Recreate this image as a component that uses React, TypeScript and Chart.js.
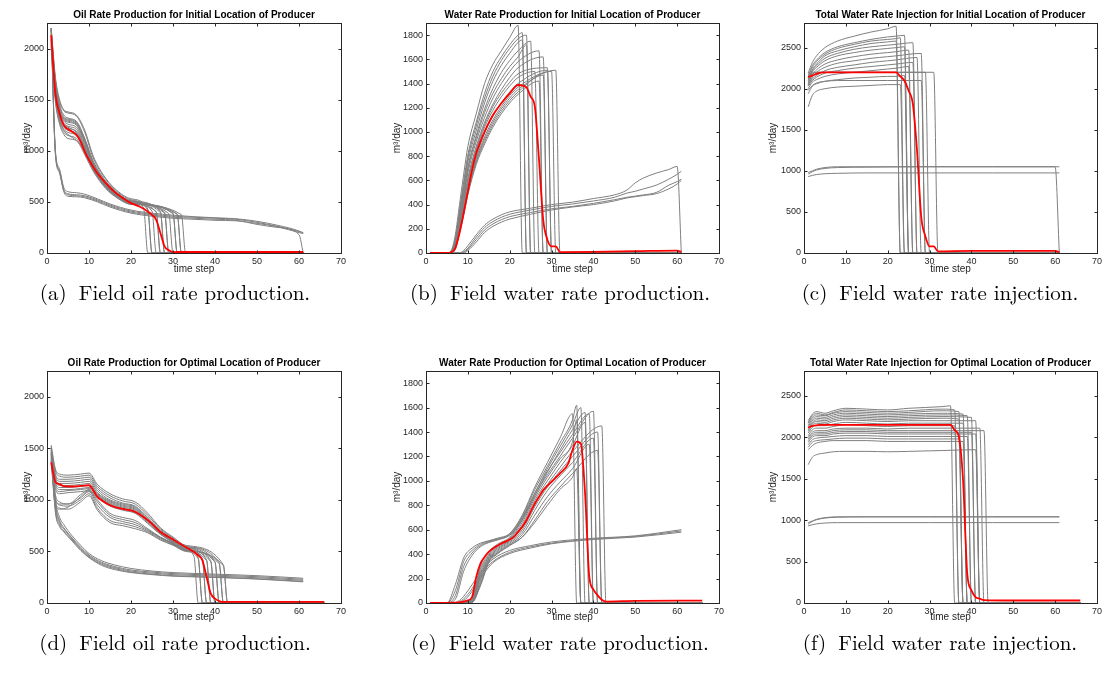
import React, { useEffect, useRef } from 'react';
import { Chart, registerables } from 'chart.js';

Chart.register(...registerables);

type Pt = { x: number; y: number };

// ---------------- Panel (a): oil rate, initial location ----------------
const A_GRID = [1, 2, 3, 4, 5, 7, 9, 11, 14, 17, 20];
const A_MAIN = [
  [2200, 1700, 1480, 1390, 1370, 1340, 1180, 930, 720, 590, 520],
  [2180, 1680, 1450, 1350, 1320, 1290, 1120, 900, 700, 580, 510],
  [2150, 1650, 1420, 1320, 1300, 1270, 1100, 880, 690, 570, 505],
  [2120, 1630, 1400, 1300, 1280, 1250, 1080, 870, 680, 565, 500],
  [2100, 1600, 1380, 1290, 1260, 1230, 1060, 860, 670, 560, 495],
  [2080, 1580, 1360, 1270, 1240, 1210, 1040, 850, 665, 555, 490],
  [2060, 1560, 1340, 1250, 1220, 1190, 1030, 840, 660, 550, 488],
  [2050, 1540, 1320, 1230, 1200, 1170, 1010, 830, 655, 545, 485],
  [2040, 1520, 1300, 1210, 1180, 1150, 1000, 820, 650, 540, 480],
  [2020, 1500, 1280, 1180, 1150, 1120, 980, 810, 640, 535, 478],
  [2000, 1480, 1260, 1160, 1120, 1100, 960, 800, 630, 530, 475],
  [2190, 1720, 1500, 1400, 1380, 1350, 1200, 950, 730, 600, 530],
  [2090, 1620, 1390, 1310, 1290, 1260, 1090, 860, 675, 560, 500],
  [2030, 1530, 1310, 1200, 1160, 1100, 1000, 820, 640, 540, 482],
  [2140, 1660, 1430, 1330, 1310, 1280, 1110, 890, 700, 575, 510],
  [2070, 1570, 1350, 1260, 1230, 1180, 1020, 830, 650, 548, 486],
];
const A_CUT = [23, 24, 25, 26, 27, 28, 29, 30, 31, 32, 26, 24, 28, 30, 27, 31];
const A_CUT_VAL = [440, 420, 410, 400, 395, 390, 385, 385, 380, 375, 405, 430, 400, 390, 410, 380];
const A_LOW_GRID = [1, 2, 3, 4, 5, 7, 9, 12, 15, 20, 25, 30, 35, 40, 45, 50, 55, 60, 61];
const A_LOW = [
  [2200, 980, 800, 620, 580, 570, 560, 520, 470, 410, 380, 360, 350, 340, 330, 300, 260, 210, 200],
  [2200, 1000, 820, 640, 600, 590, 575, 530, 480, 420, 390, 370, 355, 345, 335, 310, 270, 215, 195],
  [2200, 960, 780, 600, 555, 550, 540, 500, 450, 390, 360, 340, 330, 320, 315, 290, 255, 200, 190],
  [2200, 990, 790, 610, 570, 560, 550, 510, 460, 400, 370, 350, 340, 330, 320, 280, 250, 180, 0],
];
const A_RED_X = [1, 2, 3, 4, 5, 6, 7, 8, 9, 10, 12, 14, 16, 18, 20, 22, 24, 25, 26, 27, 28, 29, 30, 31, 40, 50, 61];
const A_RED_Y = [2130, 1560, 1365, 1250, 1210, 1187, 1155, 1090, 990, 910, 780, 683, 600, 537, 488, 455, 407, 374, 325, 195, 65, 26, 8, 10, 10, 10, 10];

// ---------------- Panel (b): water rate production, initial ----------------
const B_GRID = [1, 5, 6, 7, 8, 9, 10, 12, 14, 16, 18, 20, 22];
const B_MAIN = [
  [0, 0, 20, 150, 400, 650, 880, 1150, 1400, 1560, 1670, 1780, 1880],
  [0, 0, 15, 120, 350, 590, 810, 1080, 1320, 1500, 1620, 1720, 1800],
  [0, 0, 12, 110, 330, 560, 780, 1050, 1280, 1460, 1590, 1690, 1770],
  [0, 0, 10, 100, 310, 530, 750, 1010, 1240, 1420, 1550, 1650, 1740],
  [0, 0, 8, 90, 290, 500, 710, 970, 1190, 1360, 1490, 1590, 1670],
  [0, 0, 6, 80, 260, 460, 660, 920, 1120, 1280, 1400, 1500, 1580],
  [0, 0, 5, 70, 240, 430, 620, 880, 1080, 1230, 1350, 1450, 1530],
  [0, 0, 4, 60, 220, 400, 580, 840, 1040, 1180, 1290, 1380, 1450],
  [0, 0, 3, 50, 200, 370, 550, 800, 990, 1130, 1240, 1330, 1400],
  [0, 0, 3, 45, 190, 350, 530, 780, 960, 1100, 1210, 1300, 1370],
  [0, 0, 2, 40, 180, 340, 510, 760, 940, 1080, 1190, 1280, 1350],
  [0, 0, 2, 35, 170, 330, 500, 750, 920, 1060, 1170, 1260, 1330],
  [0, 0, 1, 30, 160, 310, 480, 730, 900, 1040, 1150, 1240, 1310],
  [0, 0, 5, 65, 230, 420, 600, 860, 1060, 1210, 1320, 1410, 1480],
  [0, 0, 7, 85, 280, 480, 690, 950, 1160, 1320, 1440, 1540, 1620],
];
const B_CUT = [22, 23, 24, 23, 25, 27, 28, 26, 29, 30, 31, 28, 27, 29, 24];
const B_CUT_VAL = [1880, 1820, 1800, 1760, 1750, 1670, 1620, 1500, 1510, 1500, 1510, 1470, 1420, 1530, 1720];
const B_LOW_GRID = [1, 8, 9, 10, 12, 14, 16, 18, 20, 25, 30, 35, 40, 45, 48, 50, 52, 55, 58, 60, 61];
const B_LOW = [
  [0, 0, 20, 60, 150, 230, 280, 315, 340, 370, 400, 420, 450, 480, 520, 580, 620, 660, 690, 715, 0],
  [0, 0, 10, 40, 130, 210, 260, 295, 320, 355, 385, 405, 430, 460, 495, 510, 530, 560, 610, 650, 675],
  [0, 0, 5, 30, 110, 190, 240, 275, 300, 335, 365, 385, 410, 440, 460, 470, 480, 500, 560, 590, 610],
  [0, 0, 0, 20, 90, 170, 220, 255, 280, 320, 355, 380, 400, 430, 455, 465, 475, 490, 530, 570, 600],
];
const B_RED_X = [1, 5, 6, 7, 8, 9, 10, 11, 12, 13, 14, 16, 18, 20, 22, 24, 25, 26, 27, 28, 29, 30, 31, 32, 40, 50, 60, 61];
const B_RED_Y = [0, 0, 5, 41, 165, 330, 508, 687, 824, 920, 1003, 1140, 1237, 1319, 1388, 1368, 1291, 1209, 770, 275, 110, 55, 55, 8, 10, 15, 20, 10];

// ---------------- Panel (c): total water injection, initial ----------------
const C_GRID = [1, 2, 3, 5, 8, 12, 16, 20, 22];
const C_MAIN = [
  [2190, 2320, 2400, 2500, 2580, 2640, 2690, 2730, 2760],
  [2150, 2280, 2350, 2440, 2510, 2560, 2600, 2630, 2640],
  [2140, 2260, 2330, 2420, 2490, 2540, 2580, 2600, 2610],
  [2100, 2230, 2300, 2400, 2460, 2510, 2550, 2570, 2580],
  [2120, 2220, 2280, 2370, 2430, 2480, 2510, 2530, 2540],
  [2080, 2200, 2260, 2340, 2400, 2440, 2470, 2490, 2500],
  [2060, 2170, 2230, 2300, 2350, 2390, 2420, 2440, 2450],
  [2040, 2140, 2200, 2260, 2310, 2340, 2370, 2390, 2400],
  [2050, 2120, 2160, 2220, 2260, 2290, 2320, 2340, 2350],
  [2030, 2100, 2140, 2190, 2220, 2250, 2270, 2290, 2300],
  [2000, 2080, 2110, 2150, 2180, 2200, 2220, 2240, 2250],
  [2180, 2190, 2200, 2200, 2200, 2200, 2200, 2200, 2200],
  [2150, 2180, 2200, 2200, 2200, 2200, 2200, 2200, 2200],
  [1980, 2040, 2070, 2090, 2100, 2100, 2100, 2100, 2100],
  [1940, 2030, 2060, 2090, 2110, 2130, 2140, 2150, 2150],
  [1780, 1920, 1970, 2000, 2020, 2030, 2040, 2050, 2050],
];
const C_CUT = [22, 24, 23, 22, 26, 24, 25, 28, 27, 26, 25, 31, 29, 28, 24, 23];
const C_CUT_VAL = [2760, 2650, 2620, 2580, 2560, 2510, 2470, 2430, 2380, 2320, 2270, 2200, 2200, 2100, 2160, 2050];
const C_LOW_GRID = [1, 2, 3, 5, 8, 15, 30, 45, 60, 61];
const C_LOW = [
  [980, 1000, 1020, 1040, 1050, 1050, 1050, 1050, 1050, 0],
  [960, 990, 1010, 1030, 1040, 1045, 1050, 1050, 1050, 1050],
  [930, 945, 955, 965, 970, 975, 975, 975, 975, 975],
];
const C_RED_X = [1, 2, 3, 4, 5, 10, 15, 20, 22, 23, 24, 25, 26, 27, 28, 29, 30, 31, 32, 40, 50, 60, 61];
const C_RED_Y = [2140, 2160, 2180, 2195, 2200, 2200, 2200, 2200, 2200, 2150, 2097, 1975, 1815, 1250, 444, 202, 81, 81, 20, 25, 25, 25, 10];

// ---------------- Panel (d): oil rate, optimal location ----------------
const D_GRID = [1, 2, 3, 5, 8, 10, 12, 15, 18, 21, 24, 27, 30, 33];
const D_MAIN = [
  [1530, 1300, 1250, 1240, 1250, 1260, 1150, 1060, 1010, 980, 870, 730, 640, 560],
  [1500, 1280, 1230, 1220, 1230, 1240, 1130, 1040, 990, 960, 850, 720, 630, 550],
  [1480, 1250, 1200, 1200, 1210, 1220, 1110, 1020, 970, 940, 830, 710, 620, 545],
  [1460, 1230, 1180, 1180, 1190, 1200, 1090, 1000, 960, 930, 820, 700, 615, 540],
  [1440, 1210, 1160, 1160, 1170, 1180, 1070, 990, 950, 920, 810, 690, 610, 535],
  [1420, 1190, 1140, 1140, 1150, 1160, 1060, 980, 940, 910, 800, 685, 605, 530],
  [1400, 1170, 1120, 1120, 1130, 1140, 1050, 970, 930, 900, 795, 680, 600, 525],
  [1390, 1150, 1100, 1100, 1110, 1120, 1040, 960, 920, 890, 790, 675, 595, 520],
  [1380, 1120, 1080, 1090, 1100, 1110, 1030, 950, 910, 880, 780, 670, 590, 515],
  [1370, 1100, 1060, 1070, 1080, 1090, 1020, 940, 900, 870, 770, 665, 585, 510],
  [1450, 1050, 980, 960, 1020, 1080, 950, 830, 790, 760, 700, 630, 570, 510],
  [1420, 1020, 950, 940, 1000, 1060, 920, 800, 770, 740, 690, 620, 565, 505],
  [1400, 980, 920, 910, 980, 1040, 900, 780, 750, 720, 680, 610, 560, 500],
  [1380, 1000, 960, 960, 1050, 1100, 1000, 870, 830, 800, 720, 640, 580, 515],
  [1360, 940, 910, 930, 1030, 1090, 980, 850, 810, 780, 710, 635, 575, 510],
];
const D_CUT = [42, 41, 40, 39, 38, 37, 36, 35, 39, 41, 37, 38, 36, 40, 42];
const D_CUT_VAL = [370, 390, 400, 410, 420, 430, 440, 450, 400, 380, 420, 410, 430, 395, 360];
const D_LOW_GRID = [1, 2, 3, 4, 6, 8, 10, 13, 16, 20, 25, 30, 40, 50, 61];
const D_LOW = [
  [1520, 1000, 830, 760, 650, 560, 480, 410, 370, 335, 310, 295, 280, 265, 240],
  [1500, 960, 800, 730, 630, 540, 465, 395, 355, 320, 300, 285, 270, 255, 230],
  [1480, 940, 780, 720, 620, 530, 455, 385, 345, 310, 290, 275, 260, 245, 220],
  [1460, 900, 760, 700, 610, 520, 445, 375, 335, 300, 280, 265, 250, 235, 210],
  [1440, 880, 740, 690, 600, 510, 440, 365, 325, 295, 275, 260, 248, 232, 205],
];
const D_RED_X = [1, 2, 3, 4, 6, 8, 10, 11, 12, 13, 15, 17, 19, 21, 23, 25, 27, 29, 31, 33, 35, 36, 37, 38, 39, 40, 41, 42, 50, 66];
const D_RED_Y = [1362, 1175, 1152, 1133, 1130, 1135, 1142, 1094, 1029, 997, 948, 922, 906, 883, 835, 770, 689, 641, 592, 544, 495, 463, 414, 252, 91, 42, 19, 10, 10, 10];

// ---------------- Panel (e): water rate production, optimal ----------------
const E_GRID = [1, 5, 7, 9, 11, 13, 15, 17, 20, 23, 26, 29, 32, 35];
const E_MAIN = [
  [0, 0, 150, 370, 450, 490, 510, 530, 570, 720, 950, 1150, 1350, 1550],
  [0, 0, 100, 340, 430, 480, 505, 525, 565, 710, 930, 1120, 1310, 1500],
  [0, 0, 60, 300, 410, 470, 500, 520, 560, 690, 900, 1100, 1280, 1460],
  [0, 0, 30, 260, 390, 460, 495, 515, 555, 680, 880, 1070, 1250, 1420],
  [0, 0, 0, 5, 40, 300, 420, 480, 540, 700, 900, 1080, 1230, 1380],
  [0, 0, 0, 5, 30, 280, 400, 470, 530, 680, 880, 1050, 1200, 1350],
  [0, 0, 0, 3, 25, 260, 390, 460, 520, 660, 860, 1030, 1180, 1320],
  [0, 0, 0, 3, 20, 240, 380, 450, 515, 640, 840, 1000, 1150, 1290],
  [0, 0, 0, 2, 15, 220, 370, 440, 510, 620, 810, 970, 1110, 1240],
  [0, 0, 0, 2, 12, 200, 360, 430, 500, 600, 790, 950, 1080, 1200],
  [0, 0, 0, 1, 10, 180, 350, 420, 490, 580, 760, 920, 1040, 1150],
  [0, 0, 0, 1, 8, 160, 340, 410, 480, 560, 720, 870, 990, 1100],
  [0, 0, 0, 0, 5, 140, 330, 400, 470, 540, 680, 830, 950, 1060],
  [0, 0, 0, 0, 4, 150, 340, 405, 475, 540, 660, 800, 930, 1030],
];
const E_CUT = [35, 36, 37, 38, 39, 40, 36, 38, 42, 41, 40, 39, 41, 36];
const E_CUT_VAL = [1660, 1620, 1600, 1560, 1550, 1570, 1500, 1480, 1450, 1400, 1350, 1300, 1250, 1100];
const E_LOW_GRID = [1, 6, 8, 10, 12, 14, 16, 20, 25, 30, 40, 50, 61];
const E_LOW = [
  [0, 0, 20, 100, 200, 290, 360, 430, 470, 500, 530, 550, 600],
  [0, 0, 10, 70, 170, 270, 340, 415, 460, 490, 525, 545, 590],
  [0, 0, 5, 50, 150, 250, 330, 405, 450, 485, 520, 540, 580],
];
const E_RED_X = [1, 8, 9, 10, 11, 12, 13, 14, 15, 16, 18, 20, 21, 22, 23, 24, 25, 26, 27, 28, 30, 32, 34, 35, 36, 37, 38, 39, 40, 41, 42, 43, 50, 66];
const E_RED_Y = [0, 5, 12, 22, 49, 213, 323, 377, 418, 446, 487, 520, 541, 583, 624, 678, 747, 815, 870, 924, 993, 1061, 1143, 1253, 1321, 1305, 900, 220, 110, 63, 27, 12, 18, 20];

// ---------------- Panel (f): total water injection, optimal ----------------
const F_GRID = [1, 2, 3, 5, 7, 10, 15, 20, 25, 33];
const F_MAIN = [
  [2200, 2280, 2310, 2290, 2320, 2350, 2340, 2330, 2350, 2370],
  [2180, 2260, 2290, 2270, 2300, 2330, 2320, 2310, 2320, 2340],
  [2170, 2240, 2270, 2260, 2290, 2310, 2300, 2290, 2300, 2320],
  [2150, 2220, 2250, 2240, 2270, 2290, 2280, 2270, 2280, 2290],
  [2130, 2200, 2230, 2220, 2250, 2270, 2260, 2250, 2260, 2270],
  [2110, 2180, 2210, 2200, 2230, 2250, 2240, 2230, 2240, 2250],
  [2090, 2170, 2190, 2180, 2210, 2230, 2220, 2210, 2220, 2230],
  [2070, 2150, 2170, 2160, 2190, 2210, 2200, 2190, 2200, 2200],
  [2050, 2120, 2140, 2140, 2160, 2180, 2170, 2160, 2170, 2170],
  [2020, 2090, 2110, 2110, 2130, 2150, 2140, 2130, 2140, 2140],
  [2000, 2060, 2080, 2080, 2100, 2110, 2110, 2100, 2110, 2110],
  [1980, 2040, 2060, 2060, 2080, 2090, 2090, 2080, 2080, 2080],
  [1960, 2020, 2040, 2040, 2060, 2070, 2070, 2060, 2060, 2060],
  [1940, 2000, 2020, 2020, 2040, 2050, 2050, 2040, 2040, 2040],
  [1910, 1970, 1990, 2000, 2010, 2020, 2020, 2010, 2010, 2010],
  [1880, 1940, 1960, 1970, 1980, 1990, 1990, 1980, 1980, 1980],
  [1850, 1900, 1930, 1950, 1960, 1960, 1960, 1950, 1950, 1950],
  [1670, 1760, 1790, 1810, 1825, 1830, 1830, 1825, 1830, 1840],
];
const F_CUT = [35, 36, 37, 38, 39, 40, 37, 41, 38, 36, 42, 43, 40, 41, 39, 37, 38, 41];
const F_CUT_VAL = [2380, 2330, 2310, 2280, 2260, 2240, 2220, 2200, 2170, 2140, 2110, 2080, 2060, 2040, 2010, 1980, 1950, 1850];
const F_LOW_GRID = [1, 2, 3, 5, 8, 15, 30, 45, 61];
const F_LOW = [
  [970, 990, 1010, 1030, 1040, 1040, 1040, 1040, 1040],
  [950, 985, 1005, 1025, 1035, 1040, 1040, 1040, 1040],
  [930, 945, 955, 965, 970, 970, 970, 970, 970],
];
const F_RED_X = [1, 2, 3, 4, 10, 20, 30, 35, 36, 37, 38, 39, 40, 41, 42, 43, 50, 66];
const F_RED_Y = [2117, 2137, 2145, 2150, 2150, 2150, 2150, 2150, 2085, 2005, 1481, 354, 153, 72, 52, 35, 30, 30];

// ---------------- Text and ticks ----------------
const TITLES = [
  'Oil Rate Production for Initial Location of Producer',
  'Water Rate Production for Initial Location of Producer',
  'Total Water Rate Injection for Initial Location of Producer',
  'Oil Rate Production for Optimal Location of Producer',
  'Water Rate Production for Optimal Location of Producer',
  'Total Water Rate Injection for Optimal Location of Producer',
];
const CAPTIONS = [
  ['(a)', 'Field oil rate production.'],
  ['(b)', 'Field water rate production.'],
  ['(c)', 'Field water rate injection.'],
  ['(d)', 'Field oil rate production.'],
  ['(e)', 'Field water rate production.'],
  ['(f)', 'Field water rate injection.'],
];
const X_TITLE = 'time step';
const Y_TITLE = 'm³/day';
const X_MAX = 70;
const X_TICKS = [0, 10, 20, 30, 40, 50, 60, 70];
const OIL_TICKS = [0, 500, 1000, 1500, 2000];
const WATER_TICKS = [0, 200, 400, 600, 800, 1000, 1200, 1400, 1600, 1800];
const INJ_TICKS = [0, 500, 1000, 1500, 2000, 2500];
const Y_MAX = [2250, 1900, 2800, 2250, 1900, 2800];
const Y_TICKS = [OIL_TICKS, WATER_TICKS, INJ_TICKS, OIL_TICKS, WATER_TICKS, INJ_TICKS];

// ---------------- builders ----------------
function pts(grid: number[], ys: number[]): Pt[] {
  return grid.map((x, i) => ({ x, y: ys[i] }));
}
function cutLine(grid: number[], ys: number[], cut: number, cutVal: number, xEnd: number): Pt[] {
  const p = pts(grid, ys);
  if (cut > grid[grid.length - 1]) p.push({ x: cut, y: cutVal });
  p.push({ x: cut + 1, y: 0 });
  if (xEnd > cut + 1) p.push({ x: xEnd, y: 0 });
  return p;
}

type PanelData = { red: Pt[]; gray: Pt[][] };

function buildPanel(
  grid: number[], main: number[][], cut: number[], cutVal: number[], xEnd: number,
  lowGrid: number[], low: number[][], redX: number[], redY: number[]
): PanelData {
  const gray = main.map((ys, i) => cutLine(grid, ys, cut[i], cutVal[i], xEnd));
  low.forEach((ys) => gray.push(pts(lowGrid, ys)));
  return { red: pts(redX, redY), gray };
}

const PANEL_DATA: PanelData[] = [
  buildPanel(A_GRID, A_MAIN, A_CUT, A_CUT_VAL, 61, A_LOW_GRID, A_LOW, A_RED_X, A_RED_Y),
  buildPanel(B_GRID, B_MAIN, B_CUT, B_CUT_VAL, 61, B_LOW_GRID, B_LOW, B_RED_X, B_RED_Y),
  buildPanel(C_GRID, C_MAIN, C_CUT, C_CUT_VAL, 61, C_LOW_GRID, C_LOW, C_RED_X, C_RED_Y),
  buildPanel(D_GRID, D_MAIN, D_CUT, D_CUT_VAL, 66, D_LOW_GRID, D_LOW, D_RED_X, D_RED_Y),
  buildPanel(E_GRID, E_MAIN, E_CUT, E_CUT_VAL, 66, E_LOW_GRID, E_LOW, E_RED_X, E_RED_Y),
  buildPanel(F_GRID, F_MAIN, F_CUT, F_CUT_VAL, 66, F_LOW_GRID, F_LOW, F_RED_X, F_RED_Y),
];

// ---------------- layout (pixels) ----------------
const COL_X = [0, 370, 740];
const COL_W = [370, 370, 369];
const COL_AXIS_W = [47, 56, 64];
const COL_PAD_R = [29, 21, 12];
const COL_YTITLE_PAD = [21, 21, 27];
const ROW_Y = [0, 348];
const ROW_H = 280;
const ROW_XAXIS_H = [27, 25];
const CAPTION_CX = [175, 560, 940];
const CAPTION_Y = [291, 641];

const SANS = '"Liberation Sans", Arial, Helvetica, sans-serif';
const AXIS_COLOR = '#262626';

const boxPlugin = {
  id: 'matlabBox',
  afterDatasetsDraw(chart: any) {
    const { ctx, chartArea: a, scales } = chart;
    const len = 3;
    ctx.save();
    ctx.strokeStyle = AXIS_COLOR;
    ctx.lineWidth = 1;
    ctx.beginPath();
    const L = Math.round(a.left) + 0.5;
    const R = Math.round(a.right) + 0.5;
    const T = Math.round(a.top) + 0.5;
    const B = Math.round(a.bottom) + 0.5;
    scales.x.ticks.forEach((t: any) => {
      const px = Math.round(scales.x.getPixelForValue(t.value)) + 0.5;
      ctx.moveTo(px, B); ctx.lineTo(px, B - len);
      ctx.moveTo(px, T); ctx.lineTo(px, T + len);
    });
    scales.y.ticks.forEach((t: any) => {
      const py = Math.round(scales.y.getPixelForValue(t.value)) + 0.5;
      ctx.moveTo(L, py); ctx.lineTo(L + len, py);
      ctx.moveTo(R, py); ctx.lineTo(R - len, py);
    });
    ctx.stroke();
    ctx.strokeRect(L, T, R - L, B - T);
    ctx.restore();
  },
};

function Panel({ idx }: { idx: number }) {
  const ref = useRef<HTMLCanvasElement>(null);
  const col = idx % 3;
  const row = Math.floor(idx / 3);
  const w = COL_W[col];
  const h = ROW_H;
  useEffect(() => {
    const data = PANEL_DATA[idx];
    const datasets: any[] = [
      {
        data: data.red,
        borderColor: '#ff0000',
        borderWidth: 1.8,
        pointRadius: 0,
        cubicInterpolationMode: 'monotone',
      },
      ...data.gray.map((g) => ({
        data: g,
        borderColor: '#7f7f7f',
        borderWidth: 1,
        pointRadius: 0,
        cubicInterpolationMode: 'monotone',
      })),
    ];
    const chart = new Chart(ref.current as HTMLCanvasElement, {
      type: 'line',
      data: { datasets },
      plugins: [boxPlugin],
      options: {
        animation: false,
        responsive: false,
        devicePixelRatio: 1,
        parsing: false,
        layout: { padding: { left: 0, right: COL_PAD_R[col], top: 0, bottom: 0 } },
        plugins: {
          legend: { display: false },
          tooltip: { enabled: false },
          title: {
            display: true,
            fullSize: false,
            text: TITLES[idx],
            color: '#000',
            font: { family: SANS, size: 10, weight: 'bold' },
            padding: { top: 9, bottom: 2 },
          },
        },
        scales: {
          x: {
            type: 'linear',
            min: 0,
            max: X_MAX,
            afterFit: (s: any) => { s.height = ROW_XAXIS_H[row]; },
            afterBuildTicks: (s: any) => { s.ticks = X_TICKS.map((v) => ({ value: v })); },
            grid: { display: false, drawTicks: false },
            border: { display: false },
            ticks: {
              autoSkip: false, maxRotation: 0, padding: 3, color: AXIS_COLOR,
              font: { family: SANS, size: 9 },
              callback: (v: any) => String(v),
            },
            title: { display: true, text: X_TITLE, color: AXIS_COLOR, font: { family: SANS, size: 10 }, padding: { top: 0, bottom: 5 } },
          },
          y: {
            type: 'linear',
            min: 0,
            max: Y_MAX[idx],
            afterFit: (s: any) => { s.width = COL_AXIS_W[col]; },
            afterBuildTicks: (s: any) => { s.ticks = Y_TICKS[idx].map((v) => ({ value: v })); },
            grid: { display: false, drawTicks: false },
            border: { display: false },
            ticks: {
              autoSkip: false, padding: 3, color: AXIS_COLOR,
              font: { family: SANS, size: 9 },
              callback: (v: any) => String(v),
            },
            title: { display: true, text: Y_TITLE, color: AXIS_COLOR, font: { family: SANS, size: 10 }, padding: { top: COL_YTITLE_PAD[col], bottom: 0 } },
          },
        },
      } as any,
    });
    return () => chart.destroy();
  }, [idx]);
  return (
    <div style={{ position: 'absolute', left: COL_X[col], top: ROW_Y[row], width: w, height: h }}>
      <canvas ref={ref} width={w} height={h} style={{ width: w, height: h, display: 'block' }} />
    </div>
  );
}

function Caption({ idx }: { idx: number }) {
  const col = idx % 3;
  const row = Math.floor(idx / 3);
  const [lab, text] = CAPTIONS[idx];
  return (
    <div
      style={{
        position: 'absolute',
        left: CAPTION_CX[col] - 190,
        width: 380,
        top: CAPTION_Y[row] - 13,
        height: 26,
        lineHeight: '26px',
        textAlign: 'center',
        fontFamily: '"Latin Modern Roman", "Liberation Serif", "Times New Roman", serif',
        fontSize: 21,
        color: '#000',
        whiteSpace: 'pre',
      }}
    >
      {lab}
      <span style={{ display: 'inline-block', width: 12 }} />
      {text}
    </div>
  );
}

export default function App() {
  return (
    <div style={{ position: 'fixed', left: 0, top: 0, width: 1109, height: 673, background: '#fff', overflow: 'hidden' }}>
      {[0, 1, 2, 3, 4, 5].map((i) => (
        <Panel key={'p' + i} idx={i} />
      ))}
      {[0, 1, 2, 3, 4, 5].map((i) => (
        <Caption key={'c' + i} idx={i} />
      ))}
    </div>
  );
}
